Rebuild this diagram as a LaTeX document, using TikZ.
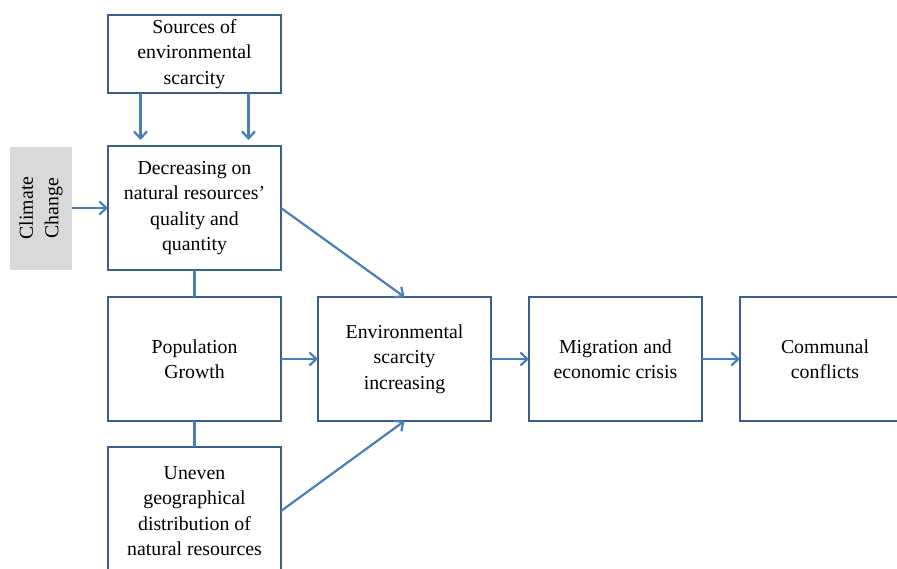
\documentclass[tikz,border=0pt]{standalone}
\usepackage{fontspec}
\setmainfont{Liberation Serif}
\usepackage{tikz}
\usetikzlibrary{arrows.meta, positioning}
\definecolor{boxEdge}{HTML}{3B5F8C}
\definecolor{arrowBlue}{HTML}{4A7EBB}
\definecolor{climateGray}{HTML}{D9D9D9}

\begin{document}
\begin{tikzpicture}[
    box/.style={rectangle, draw=boxEdge, line width=1.9pt, minimum width=173pt, minimum height=124pt, align=center, outer sep=0pt, inner sep=2pt, font=\fontsize{19.8}{25.5}\selectfont},
    arrow/.style={-{Straight Barb[length=7pt, width=13pt]}, draw=arrowBlue, line width=2.2pt},
    link/.style={draw=arrowBlue, line width=2.2pt},
]
    \useasboundingbox (0,0) rectangle (897pt,-568pt);
    \clip (0,0) rectangle (897pt,-568pt);

    % Nodes
    \node[box] (decr) at (194.5pt,-208pt) {Decreasing on\\natural resources'\\quality and\\quantity};
    \node[box, minimum height=78pt, above=53pt of decr] (sources) {Sources of\\environmental\\scarcity};
    \node[box, below=27pt of decr] (pop) {Population\\Growth};
    \node[box, minimum height=128pt, below=26pt of pop] (uneven) {Uneven\\geographical\\distribution of\\natural resources};
    \node[box, right=37pt of pop] (env) {Environmental\\scarcity\\increasing};
    \node[box, right=38pt of env] (migr) {Migration and\\economic crisis};
    \node[box, minimum width=170pt, right=38pt of migr] (comm) {Communal\\conflicts};
    \node[rectangle, fill=climateGray, minimum width=62pt, minimum height=123pt, outer sep=0pt, left=36pt of decr] (climate) {};
    \node[rotate=90, align=center, font=\fontsize{19.8}{25.5}\selectfont] at (climate) {Climate\\Change};

    % Arrows
    \draw[arrow] ([xshift=-54pt]sources.south) -- ([xshift=-54pt,yshift=6pt]decr.north);
    \draw[arrow] ([xshift=54pt]sources.south) -- ([xshift=54pt,yshift=6pt]decr.north);
    \draw[arrow] (climate) -- (decr);
    \draw[link] (decr) -- (pop);
    \draw[link] (pop) -- (uneven);
    \draw[arrow] (decr.east) -- (env.north);
    \draw[arrow] (pop) -- (env);
    \draw[arrow] (uneven.east) -- (env.south);
    \draw[arrow] (env) -- (migr);
    \draw[arrow] (migr) -- (comm);
\end{tikzpicture}
\end{document}
